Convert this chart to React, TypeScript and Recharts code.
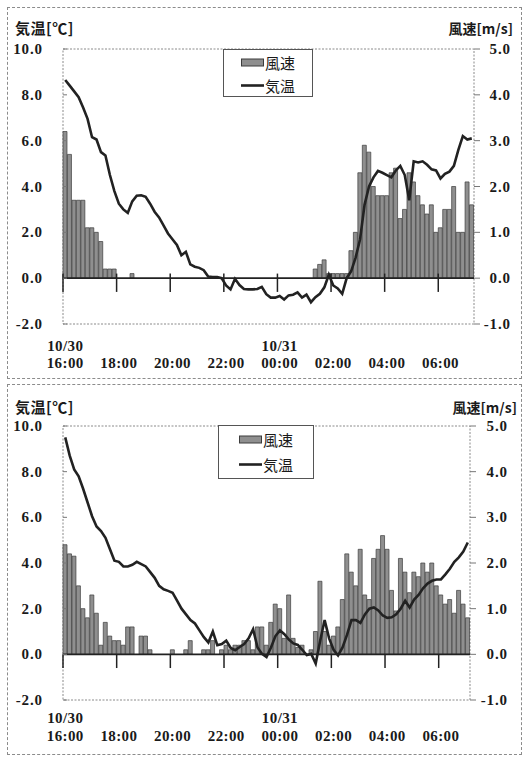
import React from 'react';
import {
  ComposedChart,
  Bar,
  Line,
  XAxis,
  YAxis,
  ReferenceLine,
  ReferenceArea,
  Legend,
} from 'recharts';

// ---- categories (10-minute steps, 10/30 16:00 -> 10/31 07:10) ----
const TIMES = [
  '16:00', '16:10', '16:20', '16:30', '16:40', '16:50',
  '17:00', '17:10', '17:20', '17:30', '17:40', '17:50',
  '18:00', '18:10', '18:20', '18:30', '18:40', '18:50',
  '19:00', '19:10', '19:20', '19:30', '19:40', '19:50',
  '20:00', '20:10', '20:20', '20:30', '20:40', '20:50',
  '21:00', '21:10', '21:20', '21:30', '21:40', '21:50',
  '22:00', '22:10', '22:20', '22:30', '22:40', '22:50',
  '23:00', '23:10', '23:20', '23:30', '23:40', '23:50',
  '00:00', '00:10', '00:20', '00:30', '00:40', '00:50',
  '01:00', '01:10', '01:20', '01:30', '01:40', '01:50',
  '02:00', '02:10', '02:20', '02:30', '02:40', '02:50',
  '03:00', '03:10', '03:20', '03:30', '03:40', '03:50',
  '04:00', '04:10', '04:20', '04:30', '04:40', '04:50',
  '05:00', '05:10', '05:20', '05:30', '05:40', '05:50',
  '06:00', '06:10', '06:20', '06:30', '06:40', '06:50',
  '07:00', '07:10',
];
const TICK_TIMES = ['16:00', '18:00', '20:00', '22:00', '00:00', '02:00', '04:00', '06:00'];
const DATE_LABELS: Record<string, string> = { '16:00': '10/30', '00:00': '10/31' };
const TEMP_TICKS = [-2, 0, 2, 4, 6, 8, 10];
const WIND_TICKS = [-1, 0, 1, 2, 3, 4, 5];

// ---- top chart ----
const TOP_WIND = [
  3.2, 2.7, 1.7, 1.7, 1.7, 1.1, 1.1, 1.0, 0.8, 0.2,
  0.2, 0.2, 0, 0, 0, 0.1, 0, 0, 0, 0,
  0, 0, 0, 0, 0, 0, 0, 0, 0, 0,
  0, 0, 0, 0, 0, 0, 0, 0, 0, 0,
  0, 0, 0, 0, 0, 0, 0, 0, 0, 0,
  0, 0, 0, 0, 0, 0, 0.2, 0.3, 0.4, 0.1,
  0.1, 0.1, 0.1, 0.1, 0.6, 1.0, 2.3, 2.9, 2.75, 2.0,
  1.8, 1.8, 1.8, 2.3, 2.4, 1.3, 1.5, 2.3, 2.1, 1.8,
  1.6, 1.4, 1.6, 1.0, 1.1, 1.5, 1.5, 2.0, 1.0, 1.0,
  2.1, 1.6,
];
const TOP_TEMP = [
  8.65, 8.4, 8.15, 7.9, 7.45, 6.95, 6.15, 6.05, 5.5, 5.35,
  4.5, 3.8, 3.25, 3.0, 2.85, 3.35, 3.6, 3.62, 3.55, 3.25,
  2.9, 2.65, 2.3, 1.95, 1.7, 1.45, 1.0, 1.15, 0.6, 0.5,
  0.45, 0.35, 0.07, 0.05, 0.05, 0.0, -0.32, -0.49, -0.03, -0.3,
  -0.47, -0.49, -0.49, -0.47, -0.38, -0.7, -0.85, -0.85, -0.78, -0.93,
  -0.75, -0.72, -0.62, -0.85, -0.72, -1.05, -0.83, -0.68, -0.4, 0.15,
  -0.32, -0.45, -0.68, 0.0, 0.3, 0.9, 1.7, 3.2, 4.0, 4.4,
  4.68, 4.6, 4.5, 4.4, 4.7, 4.9, 4.5, 3.4, 5.1, 5.05,
  5.1, 4.95, 4.75, 4.7, 4.35, 4.55, 4.65, 4.9, 5.6, 6.2,
  6.05, 6.1,
];

// ---- bottom chart ----
const BOTTOM_WIND = [
  2.4, 2.2, 2.15, 1.5, 1.0, 0.8, 1.3, 0.9, 0.2, 0.7,
  0.4, 0.3, 0.3, 0.2, 0.6, 0.6, 0, 0.4, 0.4, 0.1,
  0, 0, 0, 0, 0.1, 0, 0, 0.1, 0.3, 0,
  0, 0.1, 0.1, 0.3, 0, 0.1, 0.2, 0.1, 0.2, 0.2,
  0.3, 0.3, 0.1, 0.6, 0.6, 0.2, 0.7, 1.1, 1.0, 0.35,
  1.3, 0.35, 0.15, 0.2, 0, 0.1, 0.5, 1.6, 0.5, 0.2,
  0.4, 0.6, 1.2, 2.2, 1.8, 1.5, 2.3, 1.3, 1.2, 2.1,
  2.3, 2.6, 2.3, 1.4, 0.95, 2.1, 1.8, 1.35, 1.8, 1.7,
  2.0, 1.8, 2.0, 1.5, 1.3, 1.1, 1.2, 0.9, 1.4, 1.1,
  0.8,
];
const BOTTOM_TEMP = [
  9.5, 8.7, 8.1, 7.8, 7.25, 6.65, 6.05, 5.6, 5.4, 5.1,
  4.6, 4.1, 4.05, 3.85, 3.85, 3.92, 4.05, 3.95, 3.85, 3.6,
  3.35, 3.0, 2.85, 2.78, 2.7, 2.35, 2.0, 1.75, 1.5, 1.35,
  1.05, 0.75, 0.52, 1.0, 0.4, 0.45, 0.6, 0.28, 0.18, 0.32,
  0.45, 0.7, 1.1, 0.3, 0.02, -0.12, 0.3, 0.8, 1.05, 0.88,
  0.65, 0.48, 0.41, 0.2, -0.03, 0.02, -0.4, 0.6, 1.5, 0.7,
  0.2, -0.05, 0.3, 0.85, 1.5, 1.5, 1.38, 1.75, 2.0, 2.05,
  1.92, 1.7, 1.6, 1.62, 1.75, 2.0, 2.35, 2.05, 2.4, 2.6,
  2.89, 3.1, 3.22, 3.28, 3.28, 3.5, 3.75, 4.05, 4.25, 4.5,
  4.9,
];

const WIND_NAME = '風速';
const TEMP_NAME = '気温';
const LEFT_TITLE = '気温[℃]';
const RIGHT_TITLE = '風速[m/s]';

const SERIF = '"Liberation Serif", "DejaVu Serif", serif';
const CJK = '"Noto Sans CJK JP", "Noto Sans CJK SC", sans-serif';
const INK = '#1a1a1a';
const BAR_FILL = '#8f8f8f';
const BAR_STROKE = '#3c3c3c';
const LINE_COLOR = '#222222';

function buildRows(wind: number[], temp: number[]) {
  return wind.map((w, i) => ({ t: TIMES[i], wind: w, temp: temp[i] }));
}

const numStyle = {
  fontFamily: SERIF,
  fontSize: 15,
  fontWeight: 700,
  fill: INK,
};

const YTick = (props: any) => {
  const { x, y, payload } = props;
  return (
    <text x={x} y={y} dy={5} textAnchor="end" style={{ ...numStyle, letterSpacing: 0.9 }}>
      {Number(payload.value).toFixed(1)}
    </text>
  );
};

const makeXTick = (dateDy: number, timeDy: number) => (props: any) => {
  const { x, y, payload } = props;
  const date = DATE_LABELS[payload.value];
  const st = { ...numStyle, letterSpacing: 0.4 };
  return (
    <g>
      {date ? (
        <text x={x} y={y + dateDy} textAnchor="middle" style={st}>
          {date}
        </text>
      ) : null}
      <text x={x} y={y + timeDy} textAnchor="middle" style={st}>
        {payload.value}
      </text>
    </g>
  );
};

type LegendGeom = { left: number; top: number; w: number; h: number; rowH: number; padTop: number; padLeft: number };

const makeLegend = (g: LegendGeom) => (props: any) => {
  const payload = [...(props.payload || [])].sort(
    (a: any, b: any) => (a.type === 'rect' ? 0 : 1) - (b.type === 'rect' ? 0 : 1),
  );
  return (
    <div
      style={{
        width: g.w,
        height: g.h,
        boxSizing: 'border-box',
        border: '1px solid #555',
        background: '#fff',
        paddingTop: g.padTop,
        paddingLeft: g.padLeft,
      }}
    >
      {payload.map((item: any) => (
        <div key={item.value} style={{ display: 'flex', alignItems: 'center', height: g.rowH }}>
          <svg width={23} height={9} style={{ display: 'block' }}>
            {item.type === 'line' ? (
              <line x1={0} y1={4.5} x2={23} y2={4.5} stroke={LINE_COLOR} strokeWidth={2.6} />
            ) : (
              <rect x={0.5} y={1} width={22} height={7} fill={BAR_FILL} stroke={BAR_STROKE} strokeWidth={1} />
            )}
          </svg>
          <span
            style={{
              fontFamily: CJK,
              fontSize: 15,
              lineHeight: '15px',
              color: INK,
              marginLeft: 1,
            }}
          >
            {item.value}
          </span>
        </div>
      ))}
    </div>
  );
};

type Spec = {
  wind: number[];
  temp: number[];
  left: number;
  top: number;
  width: number;
  height: number;
  marginTop: number;
  xAxisHeight: number;
  leftWidth: number;
  rightWidth: number;
  rightTickMargin: number;
  dateDy: number;
  timeDy: number;
  tickUp: number;
  legend: LegendGeom;
  titleCenterY: number;
  rightTitleEnd: number;
};

const Panel = ({ s }: { s: Spec }) => {
  const data = buildRows(s.wind, s.temp);
  return (
    <>
      <div
        style={{
          position: 'absolute',
          left: s.left,
          top: s.top,
          width: s.width,
          height: s.height,
          boxSizing: 'border-box',
          border: '1px dashed #8c8c8c',
        }}
      />
      <div
        style={{
          position: 'absolute',
          left: 15,
          top: s.titleCenterY - 9,
          fontFamily: CJK,
          fontWeight: 700,
          fontSize: 15,
          lineHeight: '18px',
          letterSpacing: 0.5,
          color: INK,
          whiteSpace: 'nowrap',
        }}
      >
        {LEFT_TITLE}
      </div>
      <div
        style={{
          position: 'absolute',
          right: 525 - s.rightTitleEnd,
          top: s.titleCenterY - 9,
          fontFamily: CJK,
          fontWeight: 700,
          fontSize: 14,
          lineHeight: '18px',
          color: INK,
          whiteSpace: 'nowrap',
          textAlign: 'right',
        }}
      >
        {RIGHT_TITLE}
      </div>
      <div style={{ position: 'absolute', left: s.left, top: s.top, width: s.width, height: s.height }}>
        <ComposedChart
          width={s.width}
          height={s.height}
          data={data}
          margin={{ top: s.marginTop, right: 0, bottom: 0, left: 0 }}
          barCategoryGap={0}
          barGap={0}
        >
          <XAxis
            dataKey="t"
            ticks={TICK_TIMES}
            interval={0}
            axisLine={false}
            tickLine={false}
            tickSize={0}
            tickMargin={0}
            height={s.xAxisHeight}
            tick={makeXTick(s.dateDy, s.timeDy)}
          />
          <YAxis
            yAxisId="left"
            domain={[-2, 10]}
            ticks={TEMP_TICKS}
            allowDataOverflow
            width={s.leftWidth}
            axisLine={false}
            tickLine={{ stroke: '#777' }}
            tickSize={-4}
            tickMargin={24}
            tick={YTick}
          />
          <YAxis
            yAxisId="right"
            orientation="right"
            domain={[-1, 5]}
            ticks={WIND_TICKS}
            allowDataOverflow
            width={s.rightWidth}
            axisLine={false}
            tickLine={{ stroke: '#777' }}
            tickSize={6}
            tickMargin={s.rightTickMargin}
            tick={YTick}
          />
          <ReferenceArea
            yAxisId="left"
            y1={-2}
            y2={10}
            fill="none"
            fillOpacity={0}
            stroke="#8a8a8a"
            strokeDasharray="2 1.5"
            ifOverflow="visible"
          />
          <Bar
            yAxisId="right"
            dataKey="wind"
            name={WIND_NAME}
            fill={BAR_FILL}
            stroke={BAR_STROKE}
            strokeWidth={0.7}
            isAnimationActive={false}
          />
          <ReferenceLine yAxisId="left" y={0} stroke="#222" strokeWidth={1.6} />
          {TICK_TIMES.map((t) => (
            <ReferenceLine
              key={t}
              yAxisId="left"
              position="start"
              segment={[
                { x: t, y: s.tickUp },
                { x: t, y: -0.6 },
              ]}
              stroke="#222"
              strokeWidth={1.5}
            />
          ))}
          <Line
            yAxisId="left"
            dataKey="temp"
            name={TEMP_NAME}
            type="linear"
            stroke={LINE_COLOR}
            strokeWidth={2.6}
            dot={false}
            activeDot={false}
            isAnimationActive={false}
          />
          <Legend
            layout="vertical"
            align="center"
            verticalAlign="middle"
            content={makeLegend(s.legend)}
            wrapperStyle={{ left: s.legend.left, top: s.legend.top, width: s.legend.w, height: s.legend.h }}
          />
        </ComposedChart>
      </div>
    </>
  );
};

const TOP_SPEC: Spec = {
  wind: TOP_WIND,
  temp: TOP_TEMP,
  left: 7,
  top: 7,
  width: 515,
  height: 372,
  marginTop: 42,
  xAxisHeight: 55,
  leftWidth: 56,
  rightWidth: 48,
  rightTickMargin: 31,
  dateDy: 27,
  timeDy: 44,
  tickUp: 0.2,
  legend: { left: 216, top: 42, w: 90, h: 48, rowH: 23, padTop: 1, padLeft: 17 },
  titleCenterY: 27.5,
  rightTitleEnd: 513,
};

const BOTTOM_SPEC: Spec = {
  wind: BOTTOM_WIND,
  temp: BOTTOM_TEMP,
  left: 7,
  top: 384,
  width: 515,
  height: 371,
  marginTop: 42,
  xAxisHeight: 55,
  leftWidth: 56,
  rightWidth: 52,
  rightTickMargin: 32,
  dateDy: 23,
  timeDy: 41,
  tickUp: 0,
  legend: { left: 211, top: 41, w: 96, h: 54, rowH: 24.5, padTop: 1.5, padLeft: 20 },
  titleCenterY: 406.7,
  rightTitleEnd: 517,
};

export default function App() {
  return (
    <div style={{ position: 'absolute', left: 0, top: 0, width: 525, height: 757, background: '#fff' }}>
      <Panel s={TOP_SPEC} />
      <Panel s={BOTTOM_SPEC} />
    </div>
  );
}
